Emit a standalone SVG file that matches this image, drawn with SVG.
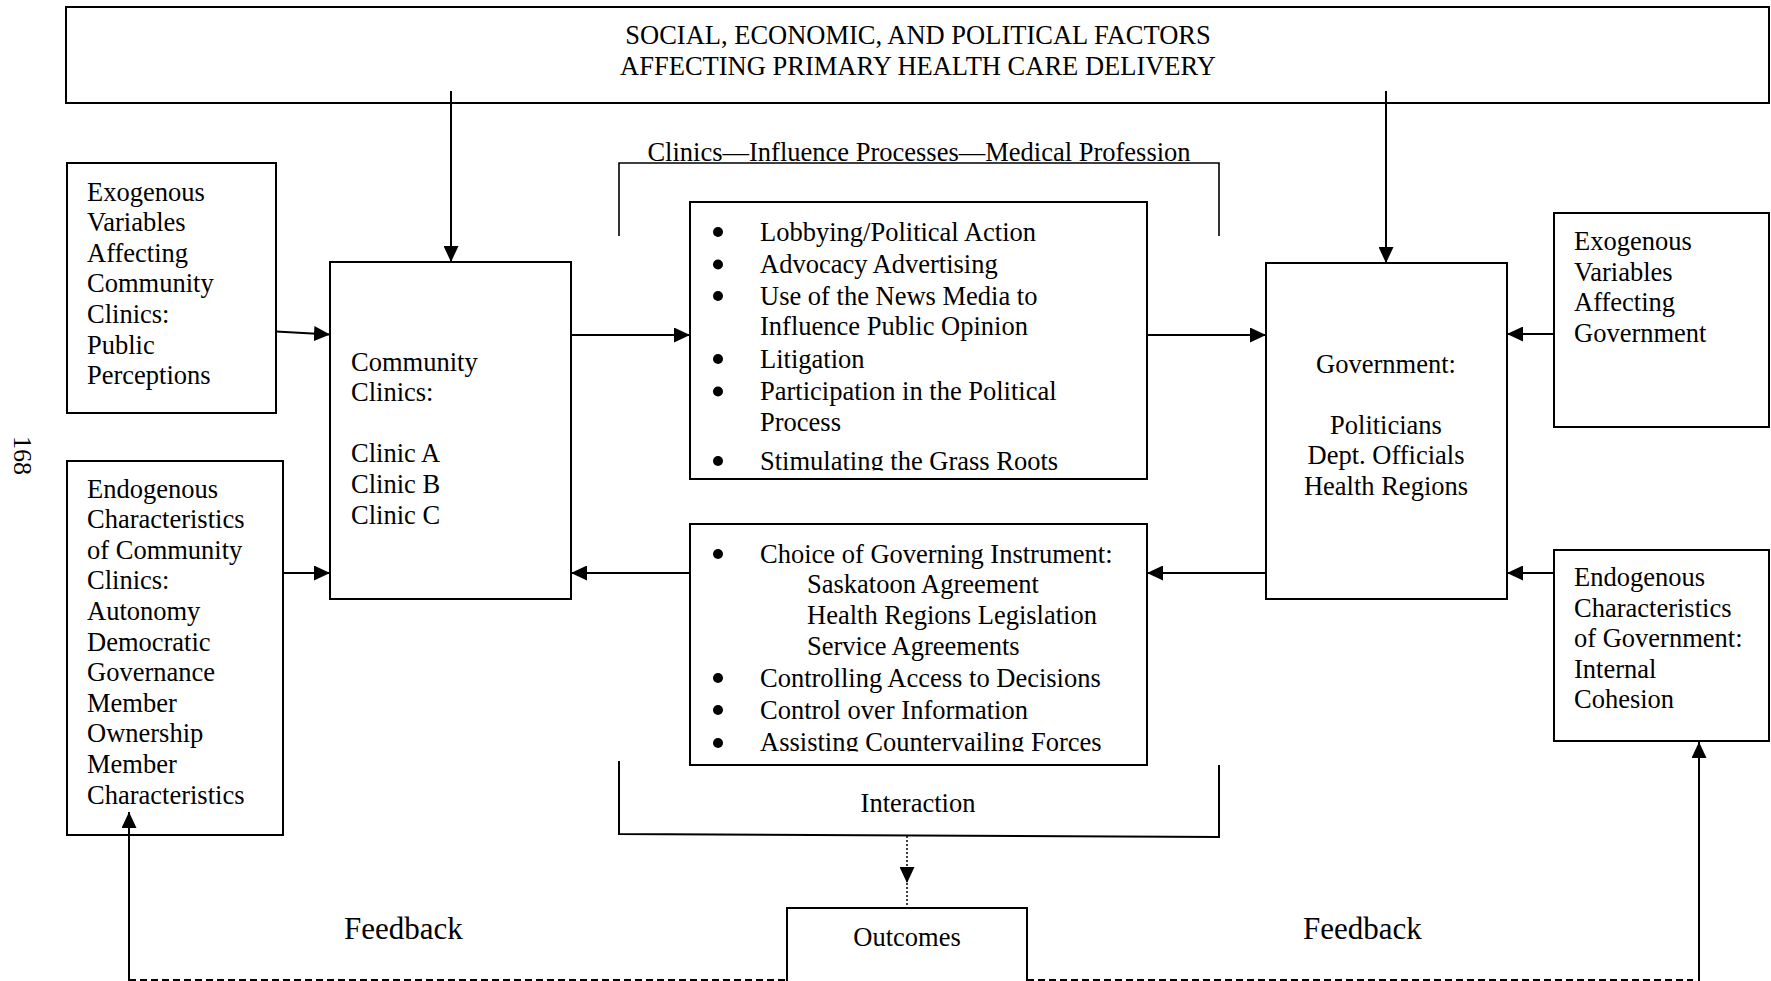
<svg xmlns="http://www.w3.org/2000/svg" width="1771" height="981" viewBox="0 0 1771 981">
<style>
.box{fill:#fff;stroke:#000;stroke-width:2}
.t{font-family:"Liberation Serif","Times New Roman",serif;font-size:26.5px;fill:#000;transform:translate(0px,1.5px)}
.pg{font-family:"Liberation Serif","Times New Roman",serif;font-size:26px;fill:#000}
.c{text-anchor:middle}
.fb{font-size:31px}
.ln{stroke:#000;stroke-width:2;fill:none}
.br{stroke:#000;stroke-width:1.6;fill:none}
.dash{stroke:#000;stroke-width:2;fill:none;stroke-dasharray:7 4}
.dot{stroke:#000;stroke-width:1.5;fill:none;stroke-dasharray:2 2}
.bul{fill:#000}
</style>
<defs>
<marker id="ah" markerWidth="16" markerHeight="15" refX="16" refY="7.5" orient="auto" markerUnits="userSpaceOnUse">
<path d="M0,0 L16,7.5 L0,15 z" fill="#000"/>
</marker>
<clipPath id="clip1"><rect x="690" y="202" width="457" height="268.5"/></clipPath>
<clipPath id="clip2"><rect x="690" y="524" width="457" height="227.5"/></clipPath>
</defs>

<g id="factors">
<rect class="box" x="66" y="7" width="1703" height="96"/>
<text class="t c" x="918" y="42">SOCIAL, ECONOMIC, AND POLITICAL FACTORS</text>
<text class="t c" x="918" y="73">AFFECTING PRIMARY HEALTH CARE DELIVERY</text>
</g>

<g id="page-number">
<text class="pg" transform="translate(14,436) rotate(90)">168</text>
</g>

<g id="influence-bracket">
<polyline class="br" points="619,236 619,163 1219,163 1219,236"/>
<text class="t c" x="919" y="159">Clinics—Influence Processes—Medical Profession</text>
</g>

<g id="interaction-bracket">
<polyline class="ln" points="619,761 619,834 1219,837 1219,765"/>
<text class="t c" x="918" y="810">Interaction</text>
</g>

<g id="exo-clinics">
<rect class="box" x="67" y="163" width="209" height="250"/>
<text class="t" x="87" y="199">Exogenous</text>
<text class="t" x="87" y="229.6">Variables</text>
<text class="t" x="87" y="260.2">Affecting</text>
<text class="t" x="87" y="290.8">Community</text>
<text class="t" x="87" y="321.4">Clinics:</text>
<text class="t" x="87" y="352">Public</text>
<text class="t" x="87" y="382.6">Perceptions</text>
</g>

<g id="endo-clinics">
<rect class="box" x="67" y="461" width="216" height="374"/>
<text class="t" x="87" y="496">Endogenous</text>
<text class="t" x="87" y="526.6">Characteristics</text>
<text class="t" x="87" y="557.2">of Community</text>
<text class="t" x="87" y="587.8">Clinics:</text>
<text class="t" x="87" y="618.4">Autonomy</text>
<text class="t" x="87" y="649">Democratic</text>
<text class="t" x="87" y="679.6">Governance</text>
<text class="t" x="87" y="710.2">Member</text>
<text class="t" x="87" y="740.8">Ownership</text>
<text class="t" x="87" y="771.4">Member</text>
<text class="t" x="87" y="802">Characteristics</text>
</g>

<g id="community-clinics">
<rect class="box" x="330" y="262" width="241" height="337"/>
<text class="t" x="351" y="369">Community</text>
<text class="t" x="351" y="399.6">Clinics:</text>
<text class="t" x="351" y="460.8">Clinic A</text>
<text class="t" x="351" y="491.4">Clinic B</text>
<text class="t" x="351" y="522">Clinic C</text>
</g>

<g id="influence-processes">
<rect class="box" x="690" y="202" width="457" height="277"/>
<g clip-path="url(#clip1)">
<circle class="bul" cx="718" cy="232" r="5"/>
<text class="t" x="760" y="239">Lobbying/Political Action</text>
<circle class="bul" cx="718" cy="264.5" r="5"/>
<text class="t" x="760" y="271.5">Advocacy Advertising</text>
<circle class="bul" cx="718" cy="296" r="5"/>
<text class="t" x="760" y="303">Use of the News Media to</text>
<text class="t" x="760" y="333.5">Influence Public Opinion</text>
<circle class="bul" cx="718" cy="359" r="5"/>
<text class="t" x="760" y="366">Litigation</text>
<circle class="bul" cx="718" cy="391.5" r="5"/>
<text class="t" x="760" y="398.5">Participation in the Political</text>
<text class="t" x="760" y="429">Process</text>
<circle class="bul" cx="718" cy="461" r="5"/>
<text class="t" x="760" y="468">Stimulating the Grass Roots</text>
</g>
</g>

<g id="government-actions">
<rect class="box" x="690" y="524" width="457" height="241"/>
<g clip-path="url(#clip2)">
<circle class="bul" cx="718" cy="554" r="5"/>
<text class="t" x="760" y="561">Choice of Governing Instrument:</text>
<text class="t" x="807" y="591.5">Saskatoon Agreement</text>
<text class="t" x="807" y="622">Health Regions Legislation</text>
<text class="t" x="807" y="653">Service Agreements</text>
<circle class="bul" cx="718" cy="678" r="5"/>
<text class="t" x="760" y="685">Controlling Access to Decisions</text>
<circle class="bul" cx="718" cy="710" r="5"/>
<text class="t" x="760" y="717">Control over Information</text>
<circle class="bul" cx="718" cy="743" r="5"/>
<text class="t" x="760" y="749.5">Assisting Countervailing Forces</text>
</g>
</g>

<g id="government">
<rect class="box" x="1266" y="263" width="241" height="336"/>
<text class="t c" x="1386" y="371">Government:</text>
<text class="t c" x="1386" y="432">Politicians</text>
<text class="t c" x="1386" y="462.6">Dept. Officials</text>
<text class="t c" x="1386" y="493.2">Health Regions</text>
</g>

<g id="exo-government">
<rect class="box" x="1554" y="213" width="215" height="214"/>
<text class="t" x="1574" y="248.6">Exogenous</text>
<text class="t" x="1574" y="279.2">Variables</text>
<text class="t" x="1574" y="309.8">Affecting</text>
<text class="t" x="1574" y="340.4">Government</text>
</g>

<g id="endo-government">
<rect class="box" x="1554" y="550" width="215" height="191"/>
<text class="t" x="1574" y="584.5">Endogenous</text>
<text class="t" x="1574" y="615.1">Characteristics</text>
<text class="t" x="1574" y="645.7">of Government:</text>
<text class="t" x="1574" y="676.3">Internal</text>
<text class="t" x="1574" y="706.9">Cohesion</text>
</g>

<g id="outcomes">
<rect class="box" x="787" y="908" width="240" height="80"/>
<text class="t c" x="907" y="944">Outcomes</text>
</g>

<g id="feedback-labels">
<text class="t fb" x="344" y="937">Feedback</text>
<text class="t fb" x="1303" y="937">Feedback</text>
</g>

<g id="connectors">
<line class="ln" x1="451" y1="91" x2="451" y2="262" marker-end="url(#ah)"/>
<line class="ln" x1="1386" y1="91" x2="1386" y2="263" marker-end="url(#ah)"/>
<line class="ln" x1="276" y1="331.5" x2="330" y2="334.5" marker-end="url(#ah)"/>
<line class="ln" x1="571" y1="335" x2="690" y2="335" marker-end="url(#ah)"/>
<line class="ln" x1="1147" y1="335" x2="1266" y2="335" marker-end="url(#ah)"/>
<line class="ln" x1="1554" y1="334" x2="1507" y2="334" marker-end="url(#ah)"/>
<line class="ln" x1="283" y1="573" x2="330" y2="573" marker-end="url(#ah)"/>
<line class="ln" x1="690" y1="573" x2="571" y2="573" marker-end="url(#ah)"/>
<line class="ln" x1="1266" y1="573" x2="1147" y2="573" marker-end="url(#ah)"/>
<line class="ln" x1="1554" y1="573" x2="1507" y2="573" marker-end="url(#ah)"/>
<line class="dot" x1="907" y1="836" x2="907" y2="883" marker-end="url(#ah)"/>
<line class="dot" x1="907" y1="883" x2="907" y2="908"/>
<line class="dash" x1="129" y1="980" x2="787" y2="980"/>
<line class="dash" x1="1027" y1="980" x2="1693" y2="980"/>
<line class="ln" x1="129" y1="981" x2="129" y2="812" marker-end="url(#ah)"/>
<line class="ln" x1="1699" y1="981" x2="1699" y2="742" marker-end="url(#ah)"/>
</g>
</svg>
